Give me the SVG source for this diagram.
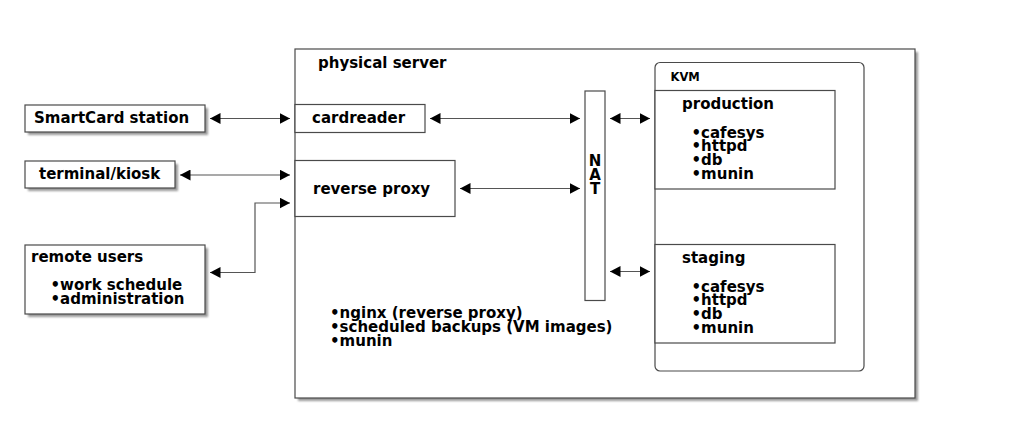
<svg xmlns="http://www.w3.org/2000/svg" width="1030" height="434" viewBox="0 0 1030 434">
<style>
.box{fill:#fff;stroke:#4a4a4a;stroke-width:1.2}
.shadow{fill:#9a9a9a;filter:url(#blur)}
.t{font-family:"DejaVu Sans","Liberation Sans",sans-serif;font-weight:bold;font-size:15px;fill:#000}
.s{font-size:11.5px}
.c{fill:none;stroke:#555;stroke-width:1.2;marker-start:url(#ah);marker-end:url(#ah)}
</style>
<defs>
<filter id="blur" x="-10%" y="-10%" width="120%" height="120%"><feGaussianBlur stdDeviation="1.2"/></filter>
<marker id="ah" markerUnits="userSpaceOnUse" markerWidth="11" markerHeight="11" refX="10.5" refY="5.5" orient="auto-start-reverse" viewBox="0 0 11 11">
<path d="M0,0 L10.5,5.5 L0,11 z" fill="#000"/>
</marker>
</defs>
<rect width="1030" height="434" fill="#fff"/>

<g id="physical-server">
<rect class="shadow" x="298" y="52" width="620" height="349"/>
<rect class="box" x="295" y="49" width="620" height="349"/>
<text class="t" x="318" y="67.5">physical server</text>
<text class="t" x="330" y="318.3">•nginx (reverse proxy)</text>
<text class="t" x="330" y="332">•scheduled backups (VM images)</text>
<text class="t" x="330" y="345.7">•munin</text>
</g>

<g id="smartcard-station">
<rect class="shadow" x="28" y="108" width="180" height="27"/>
<rect class="box" x="25" y="105" width="180" height="27"/>
<text class="t" x="34" y="123.3">SmartCard station</text>
</g>

<g id="terminal-kiosk">
<rect class="shadow" x="28" y="164" width="150" height="27"/>
<rect class="box" x="25" y="161" width="150" height="27"/>
<text class="t" x="39" y="179.3">terminal/kiosk</text>
</g>

<g id="remote-users">
<rect class="shadow" x="28" y="248" width="180" height="69"/>
<rect class="box" x="25" y="245" width="180" height="69"/>
<text class="t" x="31" y="262.3">remote users</text>
<text class="t" x="50.5" y="290">•work schedule</text>
<text class="t" x="50.5" y="304">•administration</text>
</g>

<g id="cardreader">
<rect class="box" x="295" y="104.5" width="130" height="28"/>
<text class="t" x="312" y="123.3">cardreader</text>
</g>

<g id="reverse-proxy">
<rect class="box" x="295" y="160.5" width="160" height="56"/>
<text class="t" x="313" y="193.5">reverse proxy</text>
</g>

<g id="nat">
<rect class="box" x="585" y="91" width="20" height="209.5"/>
<text class="t" x="595" y="166.3" text-anchor="middle">N</text>
<text class="t" x="595" y="180" text-anchor="middle">A</text>
<text class="t" x="595" y="193.7" text-anchor="middle">T</text>
</g>

<g id="kvm">
<rect class="box" x="655" y="62.5" width="209" height="308.5" rx="5"/>
<text class="t s" x="670.5" y="81">KVM</text>
</g>

<g id="production">
<rect class="box" x="655" y="90.5" width="180" height="98.5"/>
<text class="t" x="682" y="109.3">production</text>
<text class="t" x="691.5" y="137.5">•cafesys</text>
<text class="t" x="691.5" y="151.3">•httpd</text>
<text class="t" x="691.5" y="165">•db</text>
<text class="t" x="691.5" y="178.8">•munin</text>
</g>

<g id="staging">
<rect class="box" x="655" y="244.5" width="180" height="98.5"/>
<text class="t" x="682" y="263.3">staging</text>
<text class="t" x="691.5" y="291.7">•cafesys</text>
<text class="t" x="691.5" y="305.4">•httpd</text>
<text class="t" x="691.5" y="319.1">•db</text>
<text class="t" x="691.5" y="332.8">•munin</text>
</g>

<g id="connectors">
<path class="c" d="M210,118.5 H290"/>
<path class="c" d="M180,175 H290"/>
<path class="c" d="M210,272.5 H255 V203 H290"/>
<path class="c" d="M430,118.5 H580"/>
<path class="c" d="M460,188.5 H580"/>
<path class="c" d="M610,118.5 H650"/>
<path class="c" d="M610,271.5 H650"/>
</g>
</svg>
